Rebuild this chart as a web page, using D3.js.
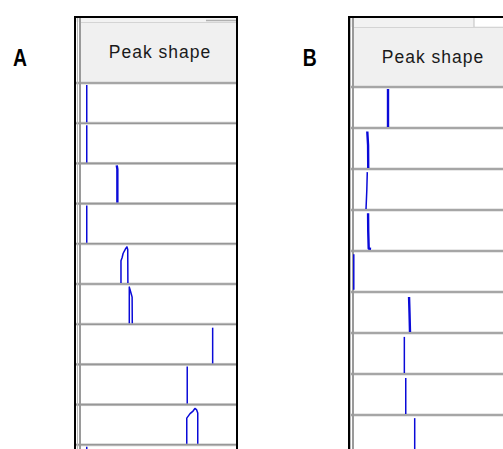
<!DOCTYPE html>
<html><head><meta charset="utf-8">
<script src="https://cdn.jsdelivr.net/npm/d3@7"></script>
<style>html,body{margin:0;padding:0;background:#fff;overflow:hidden}</style>
</head><body>
<svg id="c" width="503" height="449"></svg>
<script>
// ---------- data ----------
const panelLabels = ["A", "B"];
const columnTitle = "Peak shape";
const rtDomain = [0, 10];          // retention-time axis of each peak cell
const intensityDomain = [0, 1];    // relative intensity inside each cell

// panel A: one trace per row, points are [rt, relative intensity]
const peaksA = [
  [[0.43, 0], [0.43, 1]],
  [[0.43, 0], [0.43, 1]],
  [[2.38, 0], [2.38, 0.9], [2.34, 1]],
  [[0.43, 0], [0.43, 1]],
  [[2.61, 0], [2.61, 0.6], [2.68, 0.68], [2.75, 0.8], [2.9, 0.92], [2.99, 0.97], [3.04, 0.9], [3.05, 0]],
  [[3.14, 0], [3.14, 0.97], [3.19, 0.9], [3.27, 0.78], [3.32, 0.7], [3.33, 0]],
  [[8.45, 0], [8.45, 0.96]],
  [[6.83, 0], [6.83, 1]],
  [[6.80, 0], [6.80, 0.69], [7.01, 0.81], [7.20, 0.88], [7.32, 0.95], [7.42, 0.92], [7.50, 0.83], [7.50, 0]],
  [[0.43, 0], [0.43, 1]]
];
// panel B
const peaksB = [
  [[2.23, 0], [2.23, 1]],
  [[0.97, 0], [0.96, 0.6], [0.91, 0.96]],
  [[0.83, 0], [0.88, 0.5], [0.91, 0.97]],
  [[1.15, 0.03], [1.0, 0.04], [0.97, 0.5], [0.96, 0.97]],
  [[0.05, 0.03], [0.05, 0.97]],
  [[3.63, 0], [3.6, 0.5], [3.57, 0.92]],
  [[3.27, 0], [3.27, 0.95]],
  [[3.36, 0], [3.36, 0.95]],
  [[3.93, 0], [3.93, 0.97]]
];

// ---------- layout / style ----------
const blue = "#0a0ad8";
const panels = [
  { label: panelLabels[0], peaks: peaksA, labelX: 20, labelY: 65.5,
    outerL: 75, outerR: 237, outerT: 17, colL: 80, headerT: 22, headerB: 83, rowH: 40.2,
    thick: new Set([2]), titleY: 58, stripDivider: 206 },
  { label: panelLabels[1], peaks: peaksB, labelX: 309.7, labelY: 65.5,
    outerL: 349, outerR: 520, outerT: 17, colL: 353, headerT: 27, headerB: 87, rowH: 41,
    thick: new Set([0, 1, 3, 5]), titleY: 63, stripDivider: 474 }
];

const svg = d3.select("#c");
svg.append("rect").attr("width", 503).attr("height", 449).attr("fill", "#fff");

panels.forEach(p => {
  const g = svg.append("g");
  const colW = 157;
  const x = d3.scaleLinear().domain(rtDomain).range([p.colL, p.colL + colW]);
  const rowTop = d3.scaleLinear().domain([0, 1]).range([p.headerB, p.headerB + p.rowH]);

  // panel letter
  g.append("text").attr("x", p.labelX - 7).attr("y", p.labelY)
    .attr("font-family", "Liberation Sans, Arial, sans-serif")
    .attr("font-weight", "bold").attr("font-size", 23.5).attr("fill", "#000")
    .attr("textLength", 14).attr("lengthAdjust", "spacingAndGlyphs")
    .text(p.label);

  // top strip
  g.append("rect").attr("x", p.outerL).attr("y", p.outerT)
    .attr("width", p.outerR - p.outerL).attr("height", p.headerT - p.outerT)
    .attr("fill", "#f2f2f2");
  if (p.label === "A") {
    g.append("line").attr("x1", p.stripDivider).attr("x2", p.outerR)
      .attr("y1", 20.5).attr("y2", 20.5).attr("stroke", "#b0b0b0").attr("stroke-width", 1.5);
  } else {
    g.append("rect").attr("x", p.stripDivider).attr("y", p.outerT + 1)
      .attr("width", p.outerR - p.stripDivider).attr("height", p.headerT - p.outerT - 2)
      .attr("fill", "#fff");
    g.append("line").attr("x1", p.stripDivider).attr("x2", p.stripDivider)
      .attr("y1", p.outerT).attr("y2", p.headerT).attr("stroke", "#c0c0c0");
  }

  // header cell
  g.append("rect").attr("x", p.colL).attr("y", p.headerT)
    .attr("width", p.outerR - p.colL).attr("height", p.headerB - p.headerT)
    .attr("fill", "#f0f0f0");
  g.append("line").attr("x1", p.colL).attr("x2", p.outerR)
    .attr("y1", p.headerT + 0.5).attr("y2", p.headerT + 0.5)
    .attr("stroke", "#d4d4d4");
  g.append("text").attr("x", p.colL + 80).attr("y", p.titleY)
    .attr("text-anchor", "middle")
    .attr("font-family", "Liberation Sans, Arial, sans-serif")
    .attr("font-size", 17.5).attr("letter-spacing", 1.0).attr("fill", "#1a1a1a")
    .text(columnTitle);

  // row separators (header bottom + each row)
  const seps = d3.range(p.peaks.length + 1).map(i => rowTop(i));
  g.selectAll(".sepbg").data(seps).join("rect")
    .attr("x", p.outerL + 1).attr("y", d => d - 1.5)
    .attr("width", p.outerR - p.outerL).attr("height", 3)
    .attr("fill", "#d2d2d2");
  g.selectAll(".sep").data(seps).join("line")
    .attr("x1", p.outerL + 1).attr("x2", p.outerR)
    .attr("y1", d => d).attr("y2", d => d)
    .attr("stroke", "#979797").attr("stroke-width", 1.6);

  // inner vertical guide lines
  g.append("line").attr("x1", p.colL - 2.5).attr("x2", p.colL - 2.5)
    .attr("y1", p.outerT).attr("y2", 449).attr("stroke", "#b8b8b8").attr("stroke-width", 1);
  g.append("line").attr("x1", p.colL).attr("x2", p.colL)
    .attr("y1", p.outerT).attr("y2", 449).attr("stroke", "#9a9a9a").attr("stroke-width", 2);

  // peaks
  p.peaks.forEach((pts, i) => {
    const y = d3.scaleLinear().domain(intensityDomain)
      .range([rowTop(i + 1) - 1, rowTop(i) + 2]);
    const line = d3.line().x(d => x(d[0])).y(d => y(d[1]));
    g.append("path").attr("d", line(pts))
      .attr("fill", "none").attr("stroke", blue)
      .attr("stroke-width", p.thick.has(i) ? 2.4 : 1.5)
      .attr("stroke-linejoin", "round");
  });

  // outer border
  g.append("path")
    .attr("d", `M${p.outerL},449 V${p.outerT} H${p.outerR} V449`)
    .attr("fill", "none").attr("stroke", "#000").attr("stroke-width", 2);
});
</script>
</body></html>
